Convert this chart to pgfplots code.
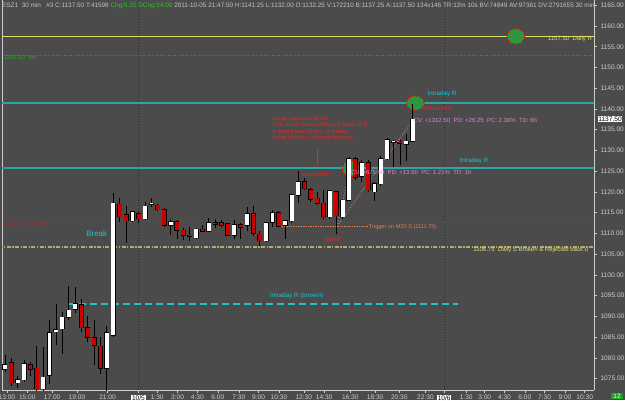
\documentclass[border=0pt]{standalone}
\usepackage{pgfplots}
\pgfplotsset{compat=1.18}
\usepackage{pgfplotstable}
\usepackage{fontspec}
\setmainfont{Liberation Sans}
\usetikzlibrary{arrows.meta}
\definecolor{bg}{RGB}{75,75,75}
\definecolor{axisgray}{RGB}{205,205,205}
\definecolor{hdr}{RGB}{195,195,195}
\definecolor{hgreen}{RGB}{40,200,40}
\definecolor{ylw}{RGB}{222,222,95}
\definecolor{tealc}{RGB}{45,165,165}
\definecolor{cyn}{RGB}{30,195,205}
\definecolor{khaki}{RGB}{175,172,110}
\definecolor{khakitxt}{RGB}{225,225,120}
\definecolor{drkred}{RGB}{165,45,45}
\definecolor{trig}{RGB}{220,125,80}
\definecolor{lmtgrn}{RGB}{45,160,45}
\definecolor{pinkc}{RGB}{220,135,205}
\definecolor{redtxt}{RGB}{255,30,30}
\definecolor{candlered}{RGB}{205,0,0}
\definecolor{ellgreen}{RGB}{45,150,65}
\definecolor{sep}{RGB}{45,45,45}
\newcommand{\fs}[1]{\fontsize{#1}{#1}\selectfont}
\newcommand{\tbox}[1]{{\setlength{\fboxsep}{0.7pt}\colorbox{white}{\color{black}#1}}}
\pgfplotsset{candle/.style={draw=none, mark=none, forget plot, error bars/.cd, y dir=plus, y explicit, error mark=none}}

\pgfplotstableread{
x o h l c
0 1077.25 1080.75 1076.5 1078.25
2 1074 1075.5 1072.75 1074.75
3 1074.75 1079.5 1074.25 1078.5
6 1072.5 1082.5 1071.5 1075.25
7 1075.75 1089 1073.75 1086
8 1086.25 1093 1083 1086.75
9 1087 1091 1081 1089.75
10 1089.75 1097.25 1089 1091.5
11 1091.75 1097 1090.75 1093
16 1077.5 1087.75 1072 1086
17 1085.5 1119.75 1085 1117.25
20 1113 1115.5 1112.75 1115.25
22 1113.5 1117.5 1113.25 1116.5
23 1117 1118.5 1116.25 1117.25
26 1112 1113.5 1109.5 1112.75
30 1109 1111.25 1108.75 1111
32 1110.5 1113.75 1110.25 1112.5
36 1109.5 1113.25 1108.75 1112
38 1112 1116.25 1110.5 1114.75
41 1108.25 1112.75 1108 1112.5
42 1112.75 1115.75 1111.5 1115
44 1112 1113.25 1108.75 1113
45 1113 1119.5 1112.5 1119.25
46 1119.25 1125 1117.25 1122.5
51 1114 1120.5 1113.5 1120.25
53 1114 1118.25 1113.5 1118
54 1118 1128.5 1117.75 1128
56 1123.75 1127.75 1122.5 1127
58 1120 1122.5 1117.75 1122
59 1122 1128.75 1121.5 1128
60 1128 1133 1127.75 1132.5
61 1132 1132.5 1126 1132.25
63 1131.5 1134 1127.5 1132.25
64 1132.25 1141.25 1132 1137.5
}\up

\pgfplotstableread{
x o h l c
1 1078.75 1080 1073.25 1074
4 1078.25 1079 1075.5 1077.25
5 1077.5 1082.75 1072 1072.5
12 1092.75 1094.25 1086.25 1087.25
13 1087.25 1090 1083.75 1085
14 1084.75 1089 1078.25 1083
15 1082.75 1085 1076 1077.5
18 1117 1118.5 1112.75 1114
19 1114.5 1116.5 1107.75 1113
21 1114.75 1115.25 1112.5 1113.5
24 1116.75 1117 1115.5 1115.75
25 1115.75 1116 1111.5 1112
27 1112.75 1113.25 1108.75 1110.75
28 1110.75 1111.25 1108.5 1109.5
29 1109.5 1111.5 1108.25 1109.25
31 1111 1112 1110.25 1110.5
33 1112.5 1113.5 1111.25 1112.25
34 1112.5 1113.25 1111.5 1112
35 1112.25 1112.5 1109.25 1109.5
37 1112 1112.5 1108.75 1111.5
39 1114.75 1116.5 1109.25 1110
40 1109.75 1110.5 1107 1108.25
43 1115 1115.5 1111.5 1111.75
47 1122.5 1123.25 1120.5 1120.75
48 1120.5 1121 1117.5 1118.25
49 1118.5 1120 1116.75 1117.25
50 1117.25 1120.5 1113.5 1114
52 1120 1120.25 1109.75 1114.25
55 1128 1128.5 1122.75 1123.5
57 1127 1127.75 1120 1120.5
62 1132 1132.5 1126.5 1131.75
}\dn

\begin{document}
\begin{tikzpicture}
\useasboundingbox (0,0) rectangle (625pt,400pt);
\fill[bg] (0,0) rectangle (625pt,400pt);
\begin{axis}[
  at={(2pt,10pt)}, anchor=south west,
  scale only axis, width=592pt, height=390pt,
  xmin=-0.47, xmax=92.46, ymin=1072.23, ymax=1166.27,
  axis x line*=bottom, axis y line*=right,
  axis line style={axisgray, line width=0.7pt},
  tick style={axisgray, line width=0.5pt},
  tick align=outside, major tick length=2.5pt,
  ytick={1075,1080,...,1165},
  scaled y ticks=false,
  /pgf/number format/fixed,
  /pgf/number format/fixed zerofill,
  /pgf/number format/precision=2,
  /pgf/number format/1000 sep={},
  /pgf/number format/assume math mode=true,
  yticklabel style={text=axisgray, font=\fs{6.6}, xshift=0.5pt},
  xtick={0.3,3.5,7.4,11.3,16.1,20.95,23.9,27.1,30.2,33.4,36.7,39.8,43.0,46.9,50.1,54.2,58.1,61.9,66.0,68.95,72.4,75.3,78.4,81.6,84.7,87.9,91.0},
  xticklabels={13:00,15:00,17:00,19:00,21:00,\tbox{10/5},1:30,3:00,4:30,6:00,7:30,9:00,10:30,12:30,14:30,16:30,18:30,20:30,22:30,\tbox{10/6},1:30,3:00,4:30,6:00,7:30,9:00,10:30},
  xticklabel style={text=axisgray, font=\fs{6.6}, yshift=1.5pt},
  clip mode=individual,
]
\draw[axisgray, line width=0.7pt] (rel axis cs:0,0) -- (rel axis cs:0,1);
\addplot[sep, dotted, line width=0.7pt] coordinates {(20.95,1060) (20.95,1170)};
\addplot[sep, dotted, line width=0.7pt] coordinates {(68.95,1060) (68.95,1170)};
\addplot[ylw, line width=1.2pt] coordinates {(-1,1157.5) (93,1157.5)};
\addplot[lmtgrn, dotted, line width=0.6pt] coordinates {(-1,1153) (93,1153)};
\addplot[tealc, line width=1.6pt] coordinates {(-1,1141.5) (93,1141.5)};
\addplot[tealc, line width=1.6pt] coordinates {(-1,1125.7) (93,1125.7)};
\addplot[drkred, dotted, line width=0.7pt] coordinates {(-1,1113) (93,1113)};
\addplot[trig, densely dotted, line width=0.7pt] coordinates {(43,1111.75) (57,1111.75)};
\addplot[khaki, line width=1.5pt, dash pattern=on 4pt off 1.5pt on 1.2pt off 1.5pt] coordinates {(-1,1106.75) (93,1106.75)};
\addplot[cyn, line width=1.4pt, dash pattern=on 7pt off 4pt] coordinates {(9.9,1093) (71.1,1093)};
\addplot[only marks, mark=*, mark size=7.8pt, mark options={fill=ellgreen, draw=red, densely dashed, line width=0.8pt, xscale=1.12}] coordinates {(80.2,1157.5)};
\addplot[only marks, mark=*, mark size=7.3pt, mark options={fill=ellgreen, draw=red, densely dashed, line width=0.8pt, xscale=1.22}] coordinates {(64.4,1141.4)};
\addplot[only marks, mark=*, mark size=8.3pt, mark options={fill=ellgreen, draw=red, densely dashed, line width=0.8pt, xscale=0.95}] coordinates {(54.2,1125.6)};
\addplot[pinkc, dotted, line width=0.8pt] coordinates {(52.1,1111.75) (54.1,1125.0)};
\addplot[pinkc, dotted, line width=0.8pt] coordinates {(52.1,1111.75) (64.1,1137.4)};
% wicks
\addplot[candle, error bar style={draw=black, line width=0.9pt}] table[x=x, y=l, y error expr=\thisrow{h}-\thisrow{l}] {\up};
\addplot[candle, error bar style={draw=black, line width=0.9pt}] table[x=x, y=l, y error expr=\thisrow{h}-\thisrow{l}] {\dn};
% bodies: outline then fill
\addplot[candle, error bar style={draw=black, line width=5pt}] table[x=x, y expr={min(\thisrow{o},\thisrow{c})-0.14}, y error expr={abs(\thisrow{c}-\thisrow{o})+0.28}] {\up};
\addplot[candle, error bar style={draw=black, line width=5pt}] table[x=x, y expr={min(\thisrow{o},\thisrow{c})-0.14}, y error expr={abs(\thisrow{c}-\thisrow{o})+0.28}] {\dn};
\addplot[candle, error bar style={draw=white, line width=3.8pt}] table[x=x, y expr={min(\thisrow{o},\thisrow{c})}, y error expr={abs(\thisrow{c}-\thisrow{o})}] {\up};
\addplot[candle, error bar style={draw=candlered, line width=3.8pt}] table[x=x, y expr={min(\thisrow{o},\thisrow{c})}, y error expr={abs(\thisrow{c}-\thisrow{o})}] {\dn};
\addplot[redtxt, line width=0.45pt, -{Stealth[length=2.2pt,width=2pt]}] coordinates {(49,1130.3) (49,1126.3)};
\node[anchor=west, inner sep=0, text=ylw, font=\fs{6}] at (axis cs:85.2,1156.9) {1157.50\ \ Daily R};
\node[anchor=west, inner sep=0, text=lmtgrn, font=\fs{6}] at (axis cs:-0.25,1152.4) {1153.00\ \ lmt};
\node[anchor=west, inner sep=0, text=drkred, font=\fs{6}] at (axis cs:-0.25,1112.3) {1113.00\ \ mit stop};
\node[text=cyn, font=\fs{6.2}, inner sep=0] at (axis cs:68.6,1143.6) {Intraday R};
\node[text=cyn, font=\fs{6.2}, inner sep=0] at (axis cs:73.6,1127.5) {Intraday R};
\node[text=cyn, font=\fs{6.2}, inner sep=0] at (axis cs:45.8,1094.9) {Intraday R (broken)};
\node[text=cyn, font=\fs{8}, inner sep=0] at (axis cs:14.4,1109.85) {Break};
\node[text=redtxt, font=\fs{5.6}, inner sep=0] at (axis cs:67.9,1140.2) {Before NFP};
\node[text=redtxt, font=\fs{5.6}, inner sep=0] at (axis cs:48.8,1124.3) {Good ADP};
\node[text=redtxt, font=\fs{5.4}, inner sep=0] at (axis cs:51.5,1108.4) {Bill Fill};
\node[anchor=north west, text=redtxt, font=\fontsize{5.3}{6.5}\selectfont, align=left, inner sep=0] at (axis cs:42.07,1138.2) {Longs supported by FA\\Only dumb money will buy at highs on R\\It doesnt take 30 yrs... If it does\\better look for a different business};
\node[anchor=west, text=trig, font=\fs{5.6}, inner sep=0] at (axis cs:57.1,1111.6) {Trigger on M30 S (1111.75)};
\node[anchor=west, text=khakitxt, font=\fs{6}, inner sep=0] at (axis cs:73.5,1106.1) {1106.75\ \ Daily S Broken \& Rejected back u};
\node[anchor=west, text=pinkc, font=\fs{6}, inner sep=0] at (axis cs:54.3,1124.8) {CV: +675.00\ \ PD: +13.50\ \ PC: 1.21\%\ \ TD: 1h};
\node[anchor=west, text=pinkc, font=\fs{6}, inner sep=0] at (axis cs:64.1,1137.25) {CV: +1312.50\ \ PD: +26.25\ \ PC: 2.36\%\ \ TD: 6h};
\end{axis}
\begin{scope}
\clip (0,380pt) rectangle (594pt,400pt);
\node[anchor=west, inner sep=0, text=hdr, font=\fs{6.4}] at (2pt,394pt) {ESZ1\ \ 30 min\ \ \ \#3 C:1137.50 T:41598 \textcolor{hgreen}{Chg:5.25 DChg:24.00} 2011-10-05 21:47:50 H:1141.25 L:1132.00 O:1132.25 V:172210 B:1137.25 A:1137.50 134x146 TR:12m 10s BV:74849 AV:97361 DV:2791655 30 min};
\end{scope}
\node[fill=white, text=black, font=\fs{6.6}, inner sep=0.8pt] at (610pt,280.7pt) {1137.50};
\node[fill=hgreen!80!black, text=white, font=\fs{6.4}, inner xsep=2.5pt, inner ysep=1pt] at (617pt,4pt) {12};
\end{tikzpicture}
\end{document}
